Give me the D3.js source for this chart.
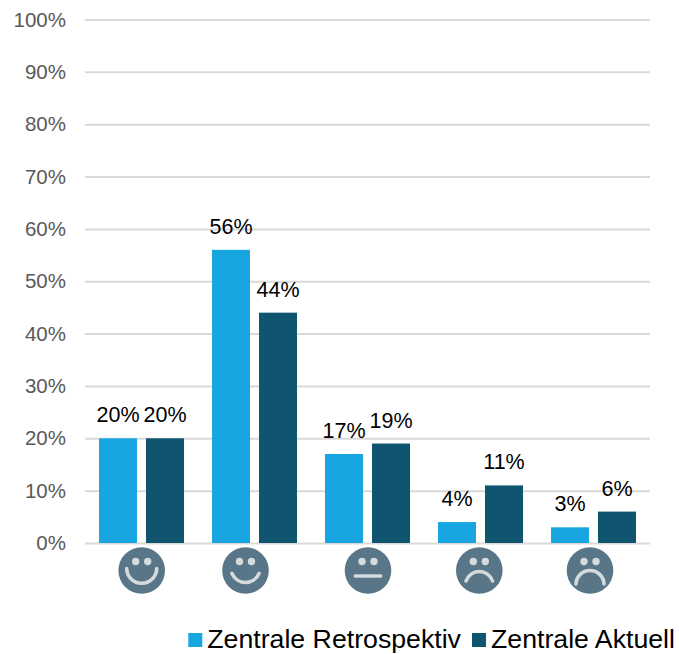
<!DOCTYPE html>
<html>
<head>
<meta charset="utf-8">
<script src="https://d3js.org/d3.v7.min.js"></script>
<style>
  html, body { margin: 0; padding: 0; background: #fff; }
  svg { display: block; }
  text { font-family: "Liberation Sans", Arial, sans-serif; }
</style>
</head>
<body>
<svg id="chart" width="679" height="654"></svg>
<script>
const categories = ['sehr zufrieden', 'zufrieden', 'neutral', 'unzufrieden', 'sehr unzufrieden'];
const seriesNames = ['Zentrale Retrospektiv', 'Zentrale Aktuell'];
const retrospektiv = [20, 56, 17, 4, 3];
const aktuell = [20, 44, 19, 11, 6];
const yTicks = [0, 10, 20, 30, 40, 50, 60, 70, 80, 90, 100];

const colors = ['#17a6df', '#0f5570'];
const width = 679;
const height = 654;
const margin = { top: 19.5, right: 29, bottom: 111, left: 85 };

const svg = d3.select('#chart');

const x = d3.scaleBand()
  .domain(categories)
  .range([margin.left, width - margin.right]);
const xInner = d3.scaleBand()
  .domain(seriesNames)
  .range([0, 85])
  .paddingInner(9 / 47)
  .paddingOuter(0);
const y = d3.scaleLinear()
  .domain([0, 100])
  .range([height - margin.bottom, margin.top]);

// grid lines and labels
const yAxis = d3.axisLeft(y)
  .tickValues(yTicks)
  .tickFormat(d => d + '%')
  .tickSize(-(width - margin.left - margin.right))
  .tickPadding(19);
const yGroup = svg.append('g')
  .attr('transform', `translate(${margin.left}, 0)`)
  .call(yAxis);
yGroup.select('.domain').remove();
yGroup.selectAll('line')
  .attr('stroke', '#d9d9d9')
  .attr('stroke-width', 2);
yGroup.selectAll('text')
  .attr('fill', '#595959')
  .attr('font-size', 20.5)
  .attr('dy', '0.32em')
  .style('font-family', '"Liberation Sans", Arial, sans-serif');

const series = [retrospektiv, aktuell];
const groupX = c => x(c) + (x.bandwidth() - 85) / 2;

series.forEach((values, s) => {
  const g = svg.append('g').attr('class', 'series');
  const name = seriesNames[s];
  g.selectAll('rect')
    .data(values)
    .enter().append('rect')
    .attr('x', (d, i) => groupX(categories[i]) + xInner(name))
    .attr('y', d => y(d))
    .attr('width', xInner.bandwidth())
    .attr('height', d => y(0) - y(d))
    .attr('fill', colors[s]);
  g.selectAll('text')
    .data(values)
    .enter().append('text')
    .attr('x', (d, i) => groupX(categories[i]) + xInner(name) + xInner.bandwidth() / 2)
    .attr('y', d => y(d) - 16)
    .attr('text-anchor', 'middle')
    .attr('font-size', 21.5)
    .attr('fill', '#000')
    .text(d => d + '%');
});

// smileys under the axis, mouth = half width, end height, middle height
const faceX = [141.7, 245.5, 368, 479.3, 590];
const faceY = 570.5;
const mouths = [[15, -2, 12.8], [13.5, 3, 12], [12.7, 5.5, 5.5], [13.3, 10.5, 1], [14, 13.5, -1]];
const faces = svg.append('g').attr('class', 'faces')
  .selectAll('g')
  .data(categories)
  .enter().append('g')
  .attr('transform', (d, i) => `translate(${faceX[i]}, ${faceY})`);
faces.append('circle')
  .attr('r', 23.3)
  .attr('fill', '#587687');
faces.append('circle').attr('cx', -6).attr('cy', -9).attr('r', 3.7).attr('fill', '#d5dadd');
faces.append('circle').attr('cx', 6).attr('cy', -9).attr('r', 3.7).attr('fill', '#d5dadd');
faces.append('path')
  .attr('d', (d, i) => {
    const [half, end, mid] = mouths[i];
    const sag = Math.abs(mid - end);
    if (sag === 0) return `M${-half},${end} L${half},${end}`;
    const r = (half * half + sag * sag) / (2 * sag);
    return `M${-half},${end} A${r},${r} 0 0 ${mid > end ? 0 : 1} ${half},${end}`;
  })
  .attr('fill', 'none')
  .attr('stroke', '#d5dadd')
  .attr('stroke-width', 3.6)
  .attr('stroke-linecap', 'round');

// legend
const legendX = [188.3, 472];
const legend = svg.append('g').attr('class', 'legend')
  .selectAll('g')
  .data(seriesNames)
  .enter().append('g')
  .attr('transform', (d, i) => `translate(${legendX[i]}, 633)`);
legend.append('rect')
  .attr('width', 14)
  .attr('height', 14)
  .attr('fill', (d, i) => colors[i]);
legend.append('text')
  .attr('x', 19)
  .attr('y', 15)
  .attr('font-size', 26.7)
  .attr('fill', '#000')
  .text(d => d);
</script>
</body>
</html>
